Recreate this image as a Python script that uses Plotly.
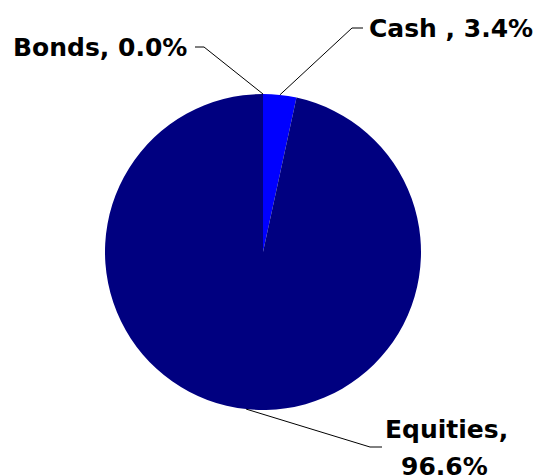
import math
import plotly.graph_objects as go

labels = ["Bonds", "Cash", "Equities"]
values = [0.0, 3.4, 96.6]
label_texts = ["Bonds, 0.0%", "Cash , 3.4%", "Equities,<br>96.6%"]
colors = ["#FF00FF", "#0000FF", "#000080"]

W, H = 536, 475
CX, CY, R = 263, 252, 158  # pie centre / radius in px

fig = go.Figure(go.Pie(
    labels=labels, values=values, sort=False, direction="clockwise", rotation=0,
    marker=dict(colors=colors, line=dict(width=0)),
    textinfo="none", hoverinfo="label+percent",
    domain=dict(x=[(CX - R) / W, (CX + R) / W], y=[(H - CY - R) / H, (H - CY + R) / H]),
    showlegend=False,
))

def px(x, y):
    return x / W, 1 - y / H

total = sum(values)
cum = 0
mids = []
for v in values:
    mids.append((cum + v / 2) / total * 2 * math.pi)
    cum += v

def edge(theta):
    return CX + R * math.sin(theta), CY - R * math.cos(theta)

# leader line layout: (elbow, end) in px
leaders = [
    ((204, 47), (195, 47)),
    ((352, 28), (363, 28)),
    ((370, 447), (382, 447)),
]
shapes = []
for theta, (elbow, end) in zip(mids, leaders):
    sx, sy = edge(theta)
    pts = [px(sx, sy), px(*elbow), px(*end)]
    path = "M {} {} L {} {} L {} {}".format(pts[0][0], pts[0][1], pts[1][0], pts[1][1], pts[2][0], pts[2][1])
    shapes.append(dict(type="path", path=path, xref="paper", yref="paper",
                       line=dict(color="black", width=1)))

font = dict(family="DejaVu Sans", size=25, color="black", weight="bold")
ann = []
x, y = px(189, 47)
ann.append(dict(x=x, y=y, text=label_texts[0], xanchor="right", yanchor="middle", showarrow=False, font=font))
x, y = px(367, 28)
ann.append(dict(x=x, y=y, text=label_texts[1], xanchor="left", yanchor="middle", showarrow=False, font=font))
eq1, eq2 = label_texts[2].split("<br>")
x, y = px(446, 429)
ann.append(dict(x=x, y=y, text=eq1, xanchor="center", yanchor="middle", showarrow=False, font=font))
x, y = px(444, 466)
ann.append(dict(x=x, y=y, text=eq2, xanchor="center", yanchor="middle", showarrow=False, font=font))

fig.update_layout(
    width=W, height=H, margin=dict(l=0, r=0, t=0, b=0),
    paper_bgcolor="white", plot_bgcolor="white",
    shapes=shapes, annotations=ann,
)
fig.write_html("out.html", config={"displayModeBar": False},
               post_script="document.body.style.margin='0';")
